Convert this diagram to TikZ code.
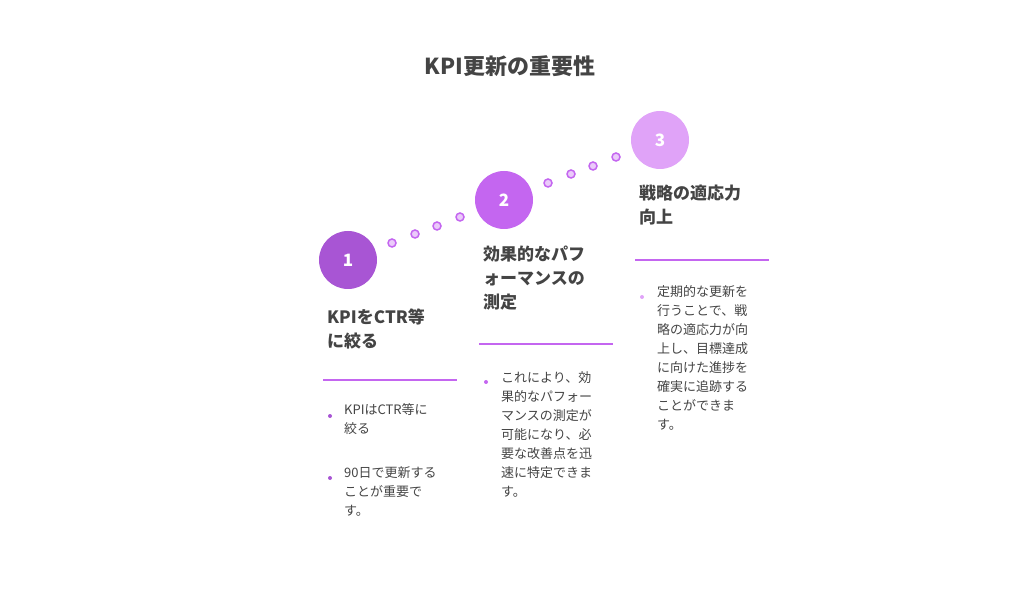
\documentclass[tikz,border=0pt]{standalone}
\usepackage{fontspec}
\setmainfont{Noto Sans CJK JP}
\definecolor{cA}{HTML}{A855D4}
\definecolor{cB}{HTML}{C466F0}
\definecolor{cC}{HTML}{E0A3F8}
\definecolor{dotf}{HTML}{EBCBFA}
\definecolor{txt}{HTML}{444444}
\begin{document}
\begin{tikzpicture}[x=1pt,y=-1pt,
  big/.style={circle,minimum size=58pt,inner sep=0,text=white,font=\fontsize{17}{17}\selectfont\bfseries},
  sm/.style={circle,minimum size=8pt,inner sep=0,fill=dotf,draw=cB,line width=1.5pt},
  head/.style={anchor=north west,inner sep=0,align=left,text=txt,font=\fontsize{17}{24}\selectfont\bfseries},
  body/.style={anchor=north west,inner sep=0,align=left,text=txt,font=\fontsize{13}{19}\selectfont},
  bul/.style={circle,inner sep=0,minimum size=4pt},
  rule/.style={draw=cB,line width=1.5pt}]
\useasboundingbox (0,0) rectangle (1020,609);
\node[text=txt,font=\fontsize{22}{22}\selectfont\bfseries] (title) at (510,66) {KPI更新の重要性};
\node[big,fill=cA] (c1) at (348,260) {1};
\node[big,fill=cB] (c2) at (504,200) {2};
\node[big,fill=cC] (c3) at (660,140) {3};
\foreach \x/\y [count=\i] in {392/243,415/234,437/226,460/217,548/183,571/174,593/166,616/157}
  \node[sm] (d\i) at (\x,\y) {};
% column 1
\node[head] (h1) at (327,309) {KPIをCTR等\\に絞る};
\coordinate (l1a) at (323,380); \coordinate (l1b) at (457,380);
\draw[rule] (l1a) -- (l1b);
\node[bul,fill=cA] (b1) at (330,416) {};
\node[body] (t1) at (344,403) {KPIはCTR等に\\絞る};
\node[bul,fill=cA] (b2) at (330,478) {};
\node[body] (t2) at (344,466) {90日で更新する\\ことが重要で\\す。};
% column 2
\node[head] (h2) at (483,246) {効果的なパフ\\ォーマンスの\\測定};
\coordinate (l2a) at (479,344); \coordinate (l2b) at (613,344);
\draw[rule] (l2a) -- (l2b);
\node[bul,fill=cB] (b3) at (486,382) {};
\node[body] (t3) at (501,371) {これにより、効\\果的なパフォー\\マンスの測定が\\可能になり、必\\要な改善点を迅\\速に特定できま\\す。};
% column 3
\node[head] (h3) at (639,185) {戦略の適応力\\向上};
\coordinate (l3a) at (635,260); \coordinate (l3b) at (769,260);
\draw[rule] (l3a) -- (l3b);
\node[bul,fill=cC] (b4) at (642,297) {};
\node[body] (t4) at (657,285) {定期的な更新を\\行うことで、戦\\略の適応力が向\\上し、目標達成\\に向けた進捗を\\確実に追跡する\\ことができま\\す。};
\end{tikzpicture}
\end{document}
